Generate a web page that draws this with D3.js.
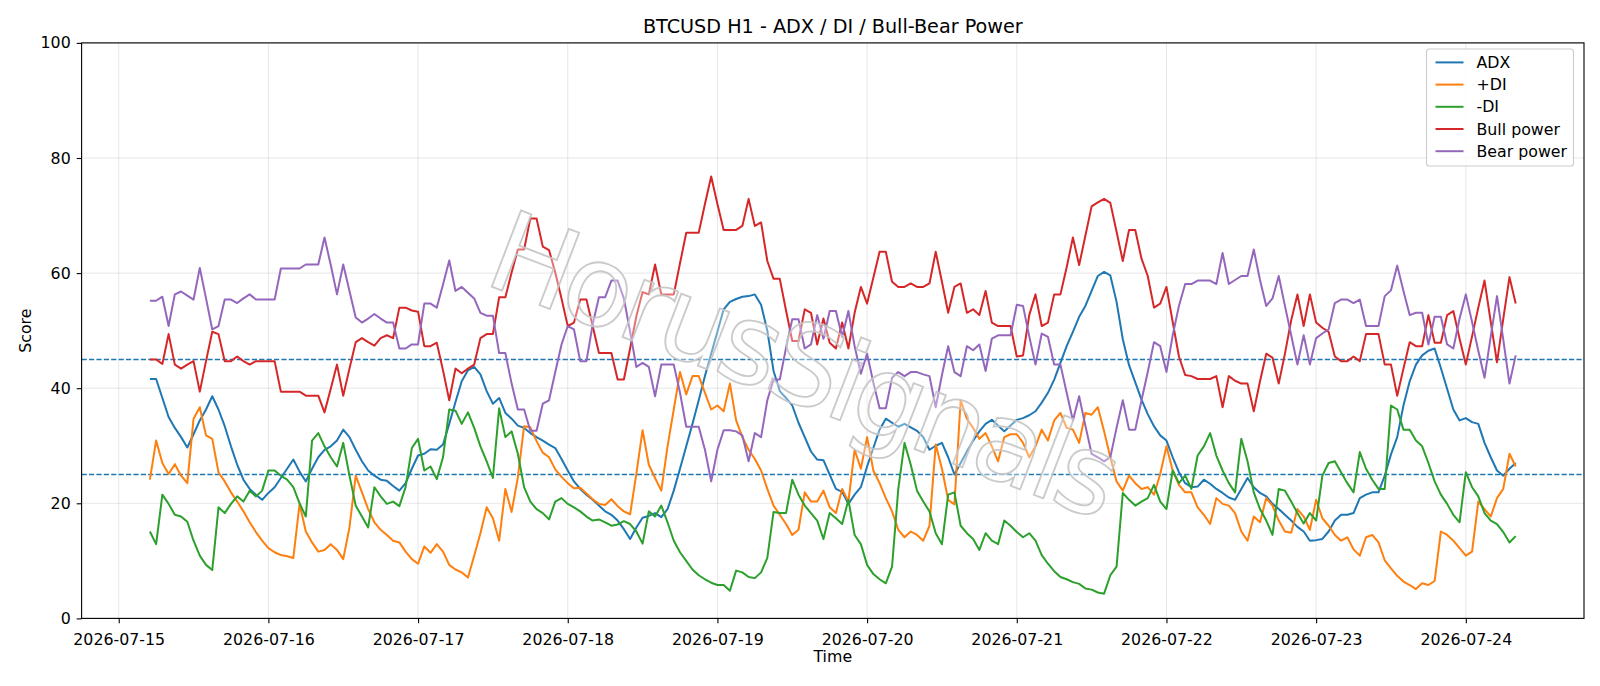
<!DOCTYPE html>
<html>
<head>
<meta charset="utf-8">
<title>BTCUSD H1 - ADX / DI / Bull-Bear Power</title>
<script src="https://d3js.org/d3.v7.min.js"></script>
<style>
	body {
		margin: 0;
		background: #fff;
	}
	text {
		font-family: "DejaVu Sans", sans-serif;
	}
	.grid line {
		stroke: #b0b0b0;
		stroke-opacity: 0.3;
		stroke-width: 1;
	}
	.series {
		fill: none;
		stroke-width: 2;
		stroke-linejoin: round;
	}
</style>
</head>
<body>
<svg id="chart" width="1600" height="686"></svg>
<script>

//
// Data: hourly bars from 2026-07-15 05:00 UTC
//

var firstBar = "2026-07-15T05:00:00Z";

var adx = [
	41.6, 41.6, 38.3, 35.0, 33.1, 31.5, 29.7, 32.0, 34.4, 36.3,
	38.6, 36.3, 33.4, 29.9, 26.7, 24.1, 22.5, 21.5, 20.6, 21.8,
	22.8, 24.4, 26.0, 27.6, 25.5, 23.8, 26.0, 28.0, 29.3, 29.9,
	30.9, 32.8, 31.5, 29.3, 27.3, 25.7, 24.8, 24.1, 23.9, 23.0,
	22.2, 23.5, 26.0, 28.3, 28.6, 29.4, 29.3, 30.2, 33.8, 37.6,
	41.2, 43.1, 43.7, 42.4, 39.5, 37.3, 38.3, 35.7, 34.7, 33.5,
	33.1, 32.2, 31.5, 30.9, 30.2, 29.6, 27.7, 25.7, 23.8, 22.5,
	21.5, 20.6, 19.6, 18.6, 18.0, 17.0, 15.5, 13.8, 15.8, 17.5,
	17.8, 18.3, 17.6, 19.0, 22.2, 26.0, 29.9, 33.8, 37.9, 42.1,
	46.0, 49.8, 53.7, 55.0, 55.5, 55.9, 56.0, 56.3, 54.5, 50.0,
	43.0, 39.5, 38.3, 37.0, 34.0, 31.5, 29.0, 27.6, 27.5, 25.0,
	22.5, 22.0, 19.9, 21.5, 22.8, 26.4, 29.6, 32.8, 34.7, 34.0,
	33.3, 33.8, 33.2, 32.6, 31.5, 29.3, 30.0, 30.5, 28.0, 25.0,
	27.0, 29.0, 30.9, 32.5, 33.8, 34.5, 33.5, 32.5, 33.5, 34.5,
	34.8, 35.3, 36.0, 37.5, 39.2, 41.5, 44.4, 47.3, 49.8, 52.4,
	54.3, 56.9, 59.5, 60.2, 59.6, 55.0, 48.5, 44.0, 41.0, 38.0,
	35.5, 33.4, 31.8, 30.9, 28.0, 25.4, 23.5, 22.8, 22.9, 24.1,
	23.4, 22.5, 21.8, 21.0, 20.6, 22.5, 24.4, 22.8, 21.8, 21.2,
	19.9, 19.0, 18.0, 17.0, 15.9, 15.1, 13.5, 13.6, 13.8, 15.1,
	17.0, 18.0, 18.0, 18.3, 20.9, 21.5, 21.9, 21.9, 24.8, 28.5,
	31.5, 37.0, 41.2, 44.1, 45.7, 46.5, 46.9, 43.5, 39.9, 36.3,
	34.4, 34.8, 34.1, 33.8, 30.5, 28.0, 25.7, 24.8, 26.0, 27.0
];

var plusDi = [
	24.1, 30.9, 27.0, 25.1, 26.8, 24.8, 23.5, 34.7, 36.7, 31.8,
	31.2, 25.4, 23.8, 21.9, 20.3, 18.6, 16.7, 15.0, 13.5, 12.2,
	11.5, 11.0, 10.8, 10.5, 19.9, 15.1, 13.2, 11.6, 11.9, 12.9,
	11.9, 10.3, 15.8, 24.8, 21.9, 19.0, 16.7, 15.4, 14.5, 13.5,
	13.2, 11.6, 10.3, 9.5, 12.5, 11.4, 12.9, 11.6, 9.3, 8.5,
	8.0, 7.1, 10.9, 14.8, 19.3, 17.4, 13.5, 22.5, 18.5, 24.5,
	33.4, 33.2, 30.8, 28.8, 28.0, 25.9, 24.6, 23.5, 22.6, 22.7,
	21.7, 20.7, 19.9, 19.7, 20.7, 19.5, 18.6, 18.1, 25.1, 32.7,
	26.7, 24.4, 22.2, 29.9, 36.3, 42.8, 38.9, 42.1, 42.1, 39.2,
	36.3, 37.0, 36.0, 40.8, 34.4, 31.5, 29.3, 27.7, 25.7, 22.5,
	19.6, 18.0, 16.4, 14.5, 15.4, 21.9, 20.3, 20.3, 22.2, 19.3,
	18.3, 22.5, 20.3, 29.3, 26.0, 31.5, 25.7, 23.5, 20.9, 18.6,
	15.4, 14.1, 15.1, 14.5, 13.5, 16.1, 30.2, 26.0, 20.6, 19.8,
	37.9, 34.7, 33.1, 31.2, 32.2, 29.9, 27.3, 31.5, 32.0, 32.0,
	30.5, 28.0, 29.9, 32.8, 30.9, 34.4, 35.7, 33.1, 32.8, 30.5,
	35.7, 35.4, 36.7, 32.5, 28.0, 23.8, 22.2, 24.8, 23.5, 22.5,
	22.8, 21.5, 25.1, 29.9, 25.7, 23.2, 21.9, 21.9, 19.3, 18.0,
	16.4, 20.9, 19.9, 19.6, 18.3, 15.1, 13.5, 17.7, 16.7, 20.9,
	19.6, 17.0, 15.1, 14.9, 19.0, 17.7, 15.4, 20.6, 17.4, 16.1,
	14.5, 13.5, 14.1, 12.0, 10.9, 14.1, 14.5, 13.2, 10.1, 8.7,
	7.4, 6.4, 5.8, 5.1, 6.1, 5.8, 6.5, 15.1, 14.5, 13.5,
	12.2, 10.9, 11.6, 20.3, 19.0, 17.7, 20.9, 22.5, 28.6, 26.4
];

var minusDi = [
	15.1, 12.9, 21.5, 19.9, 18.0, 17.7, 16.8, 13.5, 10.9, 9.3,
	8.4, 19.3, 18.3, 19.9, 21.2, 20.3, 22.2, 21.2, 22.2, 25.7,
	25.7, 24.8, 24.1, 22.8, 20.0, 17.7, 30.9, 32.2, 29.9, 28.0,
	26.4, 30.5, 24.8, 19.6, 17.7, 15.8, 22.8, 21.2, 19.9, 20.3,
	19.5, 22.8, 29.6, 31.2, 25.7, 26.4, 24.2, 28.0, 36.3, 36.1,
	33.8, 35.8, 33.1, 29.9, 27.3, 24.4, 36.5, 31.5, 32.5, 28.6,
	22.8, 20.3, 19.0, 18.3, 17.2, 20.3, 20.9, 19.9, 19.3, 18.6,
	17.7, 17.0, 17.2, 16.7, 16.1, 16.3, 16.9, 16.4, 15.1, 13.0,
	18.6, 17.7, 19.6, 16.7, 13.5, 11.5, 10.0, 8.5, 7.5, 6.8,
	6.2, 5.8, 5.8, 4.8, 8.3, 8.0, 7.2, 7.0, 8.0, 10.5,
	18.5, 18.3, 18.3, 24.1, 21.5, 19.6, 18.3, 17.0, 13.8, 18.3,
	17.4, 16.4, 20.6, 14.5, 12.9, 9.3, 7.7, 6.8, 6.1, 9.0,
	22.5, 30.5, 26.7, 22.2, 20.3, 18.6, 14.8, 12.9, 21.5, 21.9,
	16.1, 14.8, 13.8, 11.9, 14.8, 13.5, 12.9, 17.0, 16.1, 15.0,
	14.1, 14.8, 13.5, 11.0, 9.5, 8.2, 7.2, 6.8, 6.3, 6.0,
	5.2, 5.0, 4.5, 4.3, 7.5, 9.0, 21.8, 20.6, 19.6, 20.3,
	20.9, 23.2, 20.3, 19.0, 25.7, 23.5, 24.8, 22.5, 28.3, 29.9,
	32.2, 28.3, 25.7, 23.5, 21.9, 31.2, 27.3, 21.9, 19.0, 17.0,
	14.5, 22.5, 22.2, 20.3, 18.3, 16.5, 18.3, 17.0, 24.8, 27.0,
	27.3, 25.4, 23.5, 21.9, 28.9, 26.0, 24.1, 22.5, 22.5, 37.0,
	36.3, 32.8, 32.8, 30.9, 29.9, 27.0, 23.8, 21.5, 19.9, 18.0,
	16.7, 25.4, 22.8, 21.2, 18.3, 17.0, 16.4, 15.0, 13.2, 14.3
];

var bullPower = [
	45.0, 45.0, 44.2, 49.4, 44.1, 43.4, 44.1, 44.7, 39.4, 44.7,
	49.8, 49.4, 44.7, 44.7, 45.5, 44.7, 44.1, 44.7, 44.7, 44.7,
	44.7, 39.4, 39.4, 39.4, 39.4, 38.7, 38.7, 38.7, 35.8, 39.9,
	44.1, 38.7, 43.4, 48.0, 48.7, 48.0, 47.4, 48.7, 49.2, 48.7,
	54.0, 54.0, 53.5, 53.3, 47.3, 47.3, 47.9, 43.1, 37.9, 43.4,
	42.6, 43.4, 44.1, 48.7, 49.4, 49.4, 55.8, 55.8, 60.1, 64.1,
	64.1, 69.5, 69.5, 64.6, 64.0, 60.1, 55.6, 50.8, 51.4, 55.4,
	55.4, 50.8, 46.1, 46.1, 46.1, 41.5, 41.5, 46.9, 52.5, 56.7,
	56.3, 61.5, 56.3, 56.3, 56.3, 61.7, 67.0, 67.0, 67.0, 72.0,
	76.8, 72.0, 67.5, 67.5, 67.5, 68.2, 72.9, 68.2, 68.8, 62.1,
	59.0, 59.0, 53.5, 48.2, 48.2, 53.7, 53.1, 47.6, 52.1, 47.9,
	46.9, 51.4, 46.9, 53.1, 57.6, 54.7, 59.2, 63.7, 63.7, 58.5,
	57.6, 57.6, 58.2, 57.6, 57.6, 58.2, 63.7, 58.5, 53.1, 57.6,
	58.2, 53.1, 53.7, 52.7, 56.9, 51.4, 50.8, 50.8, 50.8, 45.5,
	45.7, 52.7, 56.3, 50.8, 51.4, 56.3, 56.3, 61.0, 66.2, 61.4,
	66.5, 71.6, 72.3, 72.9, 72.2, 67.2, 62.1, 67.5, 67.5, 62.5,
	59.5, 54.0, 54.7, 57.6, 51.5, 45.5, 42.3, 42.1, 41.6, 41.6,
	41.6, 42.1, 36.7, 42.1, 41.3, 40.8, 40.8, 36.0, 41.2, 46.0,
	45.3, 40.8, 46.0, 51.8, 56.3, 50.8, 56.3, 51.4, 50.5, 49.8,
	45.5, 44.7, 44.7, 45.5, 44.7, 49.4, 49.4, 49.4, 44.1, 44.1,
	38.7, 43.4, 48.0, 47.3, 47.3, 52.7, 47.9, 47.9, 52.7, 53.4,
	48.6, 44.1, 49.0, 54.0, 58.7, 51.5, 44.5, 52.0, 59.3, 54.7
];

var bearPower = [
	55.2, 55.2, 55.9, 50.8, 56.3, 56.8, 56.1, 55.4, 60.9, 55.6,
	50.2, 50.8, 55.4, 55.4, 54.8, 55.6, 56.3, 55.4, 55.4, 55.4,
	55.4, 60.8, 60.8, 60.8, 60.8, 61.5, 61.5, 61.5, 66.2, 61.4,
	56.3, 61.5, 56.9, 52.3, 51.4, 52.1, 52.9, 52.1, 51.4, 51.4,
	46.9, 46.9, 47.6, 47.6, 54.7, 54.7, 54.0, 58.0, 62.2, 56.9,
	57.6, 56.6, 55.6, 53.1, 52.6, 52.6, 46.1, 46.1, 40.8, 36.3,
	36.3, 32.6, 32.6, 37.3, 37.9, 42.8, 47.6, 50.8, 50.2, 44.7,
	44.7, 51.1, 55.8, 55.8, 58.7, 58.7, 55.6, 49.8, 43.7, 44.4,
	43.7, 38.6, 44.1, 44.1, 44.1, 39.2, 33.3, 33.3, 33.3, 29.3,
	23.8, 29.3, 32.7, 32.7, 32.5, 31.8, 27.3, 32.2, 31.5, 37.9,
	41.5, 41.5, 47.0, 52.0, 52.0, 46.9, 47.6, 52.7, 48.6, 53.4,
	53.4, 48.9, 53.4, 47.3, 42.5, 46.0, 41.0, 36.5, 36.5, 41.8,
	42.8, 42.1, 42.8, 42.8, 42.4, 42.1, 36.7, 42.3, 47.3, 42.8,
	42.1, 47.3, 46.6, 47.6, 43.0, 48.6, 49.2, 49.2, 49.2, 54.5,
	54.3, 49.0, 44.1, 49.5, 48.9, 44.1, 44.1, 39.2, 34.4, 38.6,
	33.5, 28.6, 28.0, 27.3, 28.0, 33.1, 37.9, 32.8, 32.8, 37.9,
	42.8, 48.0, 47.3, 42.8, 49.2, 54.3, 58.1, 58.1, 58.7, 58.7,
	58.7, 58.1, 63.5, 58.1, 58.8, 59.5, 59.5, 64.1, 58.8, 54.3,
	55.6, 59.5, 54.3, 49.2, 44.1, 49.2, 44.1, 48.7, 49.5, 50.2,
	54.8, 55.4, 55.4, 54.8, 55.4, 50.8, 50.8, 50.8, 56.0, 57.0,
	61.3, 56.9, 52.7, 53.1, 53.1, 47.6, 52.4, 52.4, 47.6, 46.9,
	52.1, 56.3, 51.5, 46.5, 41.8, 49.0, 56.0, 48.5, 40.8, 45.7
];

var seriesNames = ["ADX", "+DI", "-DI", "Bull power", "Bear power"];
var seriesColors = ["#1f77b4", "#ff7f0e", "#2ca02c", "#d62728", "#9467bd"];
var levels = [45, 25];
var yTicks = [0, 20, 40, 60, 80, 100];

//
// Build series
//

var t0 = new Date(firstBar);
var times = adx.map(function(d, i) { return d3.utcHour.offset(t0, i); });
var seriesData = [adx, plusDi, minusDi, bullPower, bearPower].map(function(vals, k) {
	return {
		name: seriesNames[k],
		color: seriesColors[k],
		points: vals.map(function(v, i) { return { t: times[i], v: v }; })
	};
});

//
// Draw svg
//

var margin = { top: 42.9, right: 16, bottom: 67.6, left: 81.6 };
var W = 1600, H = 686;
var width = W - margin.left - margin.right;
var height = H - margin.top - margin.bottom;
var fontSize = "15.8px";

var svg = d3.select("#chart");
var g = svg.append("g")
	.attr("transform", "translate(" + margin.left + "," + margin.top + ")");

// Scales (matplotlib-like 5% x margin)
var tExtent = d3.extent(times);
var pad = (tExtent[1] - tExtent[0]) * 0.05;
var x = d3.scaleUtc()
	.domain([new Date(+tExtent[0] - pad), new Date(+tExtent[1] + pad)])
	.range([0, width]);
var y = d3.scaleLinear()
	.domain([0, 100])
	.range([height, 0]);

var dayTicks = x.ticks(d3.utcDay.every(1));

// Grid
var gridG = g.append("g").attr("class", "grid");
dayTicks.forEach(function(d) {
	gridG.append("line")
		.attr("x1", x(d)).attr("x2", x(d))
		.attr("y1", 0).attr("y2", height);
});
yTicks.forEach(function(d) {
	gridG.append("line")
		.attr("x1", 0).attr("x2", width)
		.attr("y1", y(d)).attr("y2", y(d));
});

// Reference levels
levels.forEach(function(l) {
	g.append("line")
		.attr("x1", 0).attr("x2", width)
		.attr("y1", y(l)).attr("y2", y(l))
		.attr("stroke", "#1f77b4")
		.attr("stroke-width", 1.4)
		.attr("stroke-dasharray", "5.2,2.2");
});

// Lines
var line = d3.line()
	.x(function(d) { return x(d.t); })
	.y(function(d) { return y(d.v); });

g.append("g").selectAll(".series")
	.data(seriesData)
	.enter().append("path")
		.attr("class", "series")
		.attr("stroke", function(d) { return d.color; })
		.attr("d", function(d) { return line(d.points); });

// Watermark
g.append("text")
	.attr("transform", "translate(" + (800 - margin.left) + "," + (372 - margin.top) + ") rotate(21)")
	.attr("text-anchor", "middle")
	.attr("dominant-baseline", "middle")
	.style("font-size", "112px")
	.style("letter-spacing", "-6px")
	.attr("fill", "#ffffff")
	.attr("fill-opacity", 0.35)
	.attr("stroke", "#c4c4c4")
	.attr("stroke-opacity", 0.9)
	.attr("stroke-width", 1.8)
	.text("HorusSignals");

// Axes
var xAxis = d3.axisBottom(x)
	.tickValues(dayTicks)
	.tickFormat(d3.utcFormat("%Y-%m-%d"))
	.tickSize(4.9)
	.tickPadding(10);
var yAxis = d3.axisLeft(y)
	.tickValues(yTicks)
	.tickSize(4.9)
	.tickPadding(6);

var xG = g.append("g")
	.attr("transform", "translate(0," + height + ")")
	.call(xAxis);
var yG = g.append("g").call(yAxis);
[xG, yG].forEach(function(a) {
	a.select(".domain").remove();
	a.selectAll("line").attr("stroke", "#000").attr("stroke-width", 1.1);
	a.selectAll("text").attr("fill", "#000").style("font-size", fontSize).style("font-family", "DejaVu Sans");
});

// Frame
g.append("rect")
	.attr("width", width)
	.attr("height", height)
	.attr("fill", "none")
	.attr("stroke", "#000")
	.attr("stroke-width", 1.1);

// Labels
svg.append("text")
	.attr("x", margin.left + width / 2)
	.attr("y", 33.4)
	.attr("text-anchor", "middle")
	.style("font-size", "19.2px")
	.text("BTCUSD H1 - ADX / DI / Bull-Bear Power");
svg.append("text")
	.attr("x", margin.left + width / 2)
	.attr("y", 662)
	.attr("text-anchor", "middle")
	.style("font-size", fontSize)
	.text("Time");
svg.append("text")
	.attr("transform", "translate(31," + (margin.top + height / 2) + ") rotate(-90)")
	.attr("text-anchor", "middle")
	.style("font-size", fontSize)
	.text("Score");

// Legend
var lg = svg.append("g").attr("transform", "translate(1426.5,49)");
lg.append("rect")
	.attr("width", 147)
	.attr("height", 117)
	.attr("rx", 3)
	.attr("fill", "#fff")
	.attr("fill-opacity", 0.8)
	.attr("stroke", "#cccccc")
	.attr("stroke-width", 1.1);
seriesData.forEach(function(s, i) {
	var yy = 13.4 + i * 22.2;
	lg.append("line")
		.attr("x1", 9).attr("x2", 37)
		.attr("y1", yy).attr("y2", yy)
		.attr("stroke", s.color)
		.attr("stroke-width", 2);
	lg.append("text")
		.attr("x", 50)
		.attr("y", yy + 5.6)
		.style("font-size", fontSize)
		.text(s.name);
});

</script>
</body>
</html>
